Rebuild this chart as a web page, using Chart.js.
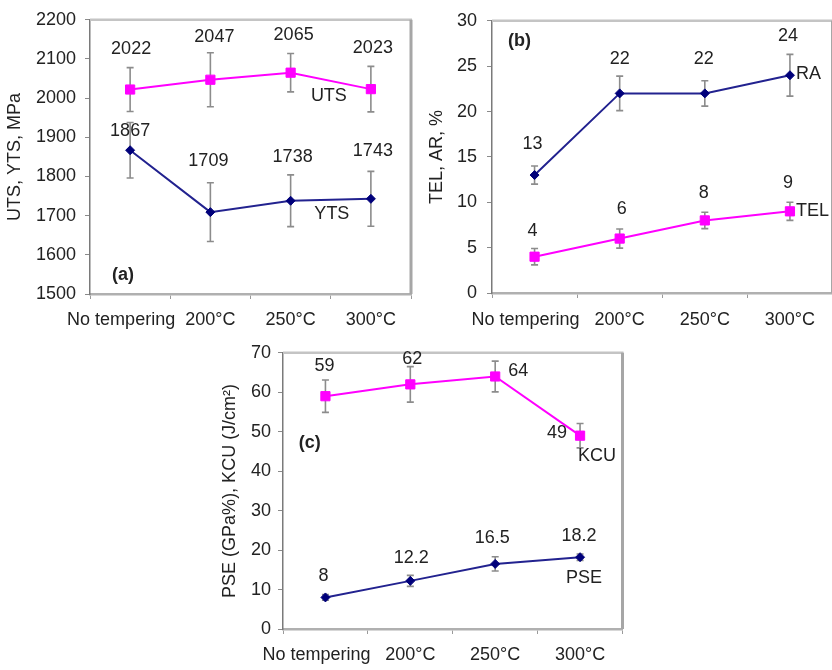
<!DOCTYPE html>
<html>
<head>
<meta charset="utf-8">
<script src="https://cdn.jsdelivr.net/npm/chart.js@4/dist/chart.umd.min.js"></script>
<style>
  html, body { margin: 0; padding: 0; background: #ffffff; overflow: hidden; }
  body { width: 832px; height: 670px; position: relative; }
  .panel { position: absolute; }
</style>
</head>
<body>
<div class="panel" style="left:0px;top:0px;"><canvas id="chartA" width="420" height="335"></canvas></div>
<div class="panel" style="left:415px;top:0px;"><canvas id="chartB" width="425" height="335"></canvas></div>
<div class="panel" style="left:210px;top:335px;"><canvas id="chartC" width="420" height="335"></canvas></div>
<script>
// Tempering conditions on every x axis
const categories = ['No tempering', '200°C', '250°C', '300°C'];

// (a) strength, MPa
const utsValues = [2022, 2047, 2065, 2023];
const utsErrors = [56, 69, 49, 58];
const ytsValues = [1867, 1709, 1738, 1743];
const ytsErrors = [71, 75, 66, 70];
const ticksA = [1500, 1600, 1700, 1800, 1900, 2000, 2100, 2200];

// (b) elongation and reduction of area, %
const raValues = [13, 22, 22, 24];
const raErrors = [1.0, 1.9, 1.4, 2.3];
const telValues = [4, 6, 8, 9];
const telErrors = [0.9, 1.05, 0.9, 1.0];
const ticksB = [0, 5, 10, 15, 20, 25, 30];

// (c) product of strength and elongation, impact toughness
const kcuValues = [59, 62, 64, 49];
const kcuErrors = [4.1, 4.5, 3.9, 3.1];
const pseValues = [8, 12.2, 16.5, 18.2];
const pseErrors = [0.7, 1.4, 1.8, 0.8];
const ticksC = [0, 10, 20, 30, 40, 50, 60, 70];

const FONT = "'Liberation Sans', Arial, sans-serif";
const TEXT = '#222222';
const PINK = '#ff00ff';
const NAVY_LINE = '#22228f';
const NAVY_MARK = '#00007a';
const ERR = '#8c8c8c';

// Vertical error bars with caps, drawn behind the lines
const errorBarPlugin = {
  id: 'errorBars',
  beforeDatasetsDraw(chart) {
    const { ctx } = chart;
    const y = chart.scales.y;
    ctx.save();
    ctx.strokeStyle = ERR;
    ctx.lineWidth = 1.6;
    chart.data.datasets.forEach((ds, di) => {
      if (!ds.errors) return;
      chart.getDatasetMeta(di).data.forEach((pt, i) => {
        const v = ds.data[i], e = ds.errors[i];
        const yt = y.getPixelForValue(v + e);
        const yb = y.getPixelForValue(v - e);
        const px = pt.x, cap = 3.5;
        ctx.beginPath();
        ctx.moveTo(px, yt); ctx.lineTo(px, yb);
        ctx.moveTo(px - cap, yt); ctx.lineTo(px + cap, yt);
        ctx.moveTo(px - cap, yb); ctx.lineTo(px + cap, yb);
        ctx.stroke();
      });
    });
    ctx.restore();
  }
};

// Top and right edges of the plot frame
const framePlugin = {
  id: 'frame',
  beforeDatasetsDraw(chart) {
    const { ctx, chartArea: a } = chart;
    ctx.save();
    ctx.lineWidth = 2.5;
    ctx.strokeStyle = '#c4c4c4';
    ctx.beginPath();
    ctx.moveTo(a.left, a.top); ctx.lineTo(a.right + 1, a.top);
    ctx.stroke();
    ctx.strokeStyle = '#a6a6a6';
    ctx.lineWidth = 3;
    ctx.beginPath();
    ctx.moveTo(a.right, a.top); ctx.lineTo(a.right, a.bottom);
    ctx.stroke();
    ctx.restore();
  }
};

// Value labels beside each point, series names and the panel letter
const labelPlugin = {
  id: 'pointLabels',
  afterDatasetsDraw(chart, args, opts) {
    const { ctx, chartArea: a } = chart;
    ctx.save();
    ctx.fillStyle = TEXT;
    ctx.textBaseline = 'middle';
    ctx.font = '18px ' + FONT;
    chart.data.datasets.forEach((ds, di) => {
      const pts = chart.getDatasetMeta(di).data;
      ctx.textAlign = 'center';
      pts.forEach((pt, i) => {
        const off = ds.labelOffsets[i];
        ctx.fillText(String(ds.data[i]), pt.x + off[0], pt.y + off[1]);
      });
      const p = pts[ds.nameAnchor];
      ctx.textAlign = ds.nameAlign;
      ctx.fillText(ds.label, p.x + ds.nameOffset[0], p.y + ds.nameOffset[1]);
    });
    if (opts && opts.tag) {
      ctx.font = 'bold 18px ' + FONT;
      ctx.textAlign = 'center';
      ctx.fillText(opts.tag, a.left + opts.fx * (a.right - a.left), a.top + opts.fy * (a.bottom - a.top));
    }
    ctx.restore();
  }
};

function pinkSeries(label, data, errors, labelOffsets, nameAnchor, nameOffset, nameAlign) {
  return {
    label, data, errors, labelOffsets, nameAnchor, nameOffset, nameAlign,
    borderColor: PINK, backgroundColor: PINK, borderWidth: 2,
    pointStyle: 'rect', pointRadius: 6.5, pointBorderWidth: 1,
    pointBackgroundColor: PINK, pointBorderColor: PINK, tension: 0
  };
}
function navySeries(label, data, errors, labelOffsets, nameAnchor, nameOffset, nameAlign) {
  return {
    label, data, errors, labelOffsets, nameAnchor, nameOffset, nameAlign,
    borderColor: NAVY_LINE, backgroundColor: NAVY_MARK, borderWidth: 2,
    pointStyle: 'rectRot', pointRadius: 4.5, pointBorderWidth: 1,
    pointBackgroundColor: NAVY_MARK, pointBorderColor: NAVY_MARK, tension: 0
  };
}

// The long first category label sits a little left of its point
function categoryTick(value, index) {
  const text = categories[index];
  return index === 0 ? text + '\u2003' : text;
}

function makeChart(id, cfg) {
  const yt = cfg.yTicks;
  return new Chart(document.getElementById(id), {
    type: 'line',
    data: { labels: categories, datasets: cfg.datasets },
    plugins: [errorBarPlugin, framePlugin, labelPlugin],
    options: {
      responsive: false,
      animation: false,
      devicePixelRatio: 1,
      layout: { padding: cfg.padding },
      plugins: {
        legend: { display: false },
        tooltip: { enabled: false },
        pointLabels: cfg.tag
      },
      scales: {
        x: {
          type: 'category',
          offset: true,
          grid: { offset: true, drawOnChartArea: false, tickLength: 5, color: '#9a9a9a' },
          border: { color: '#b0b0b0', width: 2.5 },
          ticks: {
            font: { family: FONT, size: 18 }, color: TEXT, padding: cfg.xPad,
            maxRotation: 0, autoSkip: false, callback: categoryTick
          },
          afterFit(s) { s.height = cfg.xHeight; }
        },
        y: {
          min: yt[0],
          max: yt[yt.length - 1],
          ticks: {
            stepSize: yt[1] - yt[0], font: { family: FONT, size: 18 }, color: TEXT,
            padding: cfg.yPad, callback: (v) => String(v)
          },
          grid: { drawOnChartArea: false, tickLength: 5, color: '#8a8a8a' },
          border: { color: '#7a7a7a', width: 1.5 },
          title: { display: true, text: cfg.yTitle, font: { family: FONT, size: 18 }, color: TEXT, padding: 0 },
          afterFit(s) { s.width = cfg.yWidth; }
        }
      }
    }
  });
}

makeChart('chartA', {
  yTicks: ticksA,
  yTitle: 'UTS, YTS, MPa',
  padding: { left: 4, top: 13, right: 9, bottom: 0 },
  yWidth: 86, yPad: 9, xHeight: 41, xPad: 10,
  tag: { tag: '(a)', fx: 0.103, fy: 0.932 },
  datasets: [
    pinkSeries('UTS', utsValues, utsErrors, [[1, -40], [4, -43], [3, -38], [2, -41]], 3, [-42, 7], 'center'),
    navySeries('YTS', ytsValues, ytsErrors, [[0, -19], [-2, -51], [2, -44], [2, -48]], 3, [-39, 15], 'center')
  ]
});

makeChart('chartB', {
  yTicks: ticksB,
  yTitle: 'TEL, AR, %',
  padding: { left: 11, top: 12, right: 4, bottom: 0 },
  yWidth: 66, yPad: 10, xHeight: 42, xPad: 11,
  tag: { tag: '(b)', fx: 0.081, fy: 0.075 },
  datasets: [
    navySeries('RA', raValues, raErrors, [[-2, -31], [0, -34], [-1, -34], [-2, -39]], 3, [6, -1], 'left'),
    pinkSeries('TEL', telValues, telErrors, [[-2, -26], [2, -30], [-1, -27], [-2, -28]], 3, [6, 0], 'left')
  ]
});

makeChart('chartC', {
  yTicks: ticksC,
  yTitle: 'PSE (GPa%), KCU (J/cm²)',
  padding: { left: 9, top: 13, right: 5, bottom: 0 },
  yWidth: 64, yPad: 7, xHeight: 41, xPad: 10,
  tag: { tag: '(c)', fx: 0.079, fy: 0.327 },
  datasets: [
    pinkSeries('KCU', kcuValues, kcuErrors, [[-1, -30], [2, -25], [23, -5], [-23, -3]], 3, [17, 20], 'center'),
    navySeries('PSE', pseValues, pseErrors, [[-2, -21], [1, -23], [-3, -26], [-1, -21]], 3, [4, 21], 'center')
  ]
});
</script>
</body>
</html>
